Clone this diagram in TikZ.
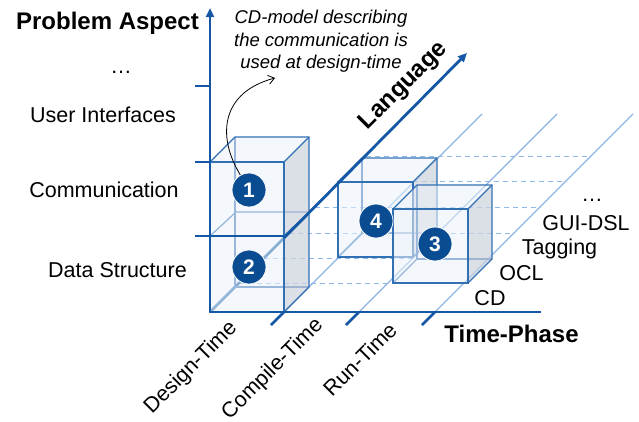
\documentclass[tikz,border=0pt]{standalone}
\usepackage{fontspec}
\setmainfont{Liberation Sans}
\usetikzlibrary{arrows.meta}
\definecolor{axisblue}{RGB}{20,88,165}
\definecolor{edgeblue}{RGB}{50,112,180}
\definecolor{gridblue}{RGB}{140,180,228}
\definecolor{dashblue}{RGB}{140,185,235}
\definecolor{facefill}{RGB}{236,243,250}
\definecolor{sidefill}{RGB}{205,210,220}
\definecolor{circfill}{RGB}{10,76,145}
\newcommand{\cubebox}[5]{%
  \draw[edge] (#1+#5,#2-#5) -- (#1+#5,#4-#5) -- (#3+#5,#4-#5);
  \draw[edge] (#1,#4) -- (#1+#5,#4-#5);
  \path[sideface] (#3,#2) -- (#3+#5,#2-#5) -- (#3+#5,#4-#5) -- (#3,#4) -- cycle;
  \path[frontface] (#1,#2) -- (#1+#5,#2-#5) -- (#3+#5,#2-#5) -- (#3,#2) -- cycle;
  \path[frontface] (#1,#2) rectangle (#3,#4);
  \draw[edge] (#1,#2) rectangle (#3,#4);
  \draw[edge] (#1,#2) -- (#1+#5,#2-#5) -- (#3+#5,#2-#5) -- (#3+#5,#4-#5) -- (#3,#4);
  \draw[edge] (#3,#2) -- (#3+#5,#2-#5);
}
\begin{document}
\begin{tikzpicture}[x=1pt,y=-1pt,
  axis/.style={draw=axisblue, line width=2.8pt},
  gridline/.style={draw=gridblue, line width=1.1pt},
  dashline/.style={draw=dashblue, line width=1pt, dash pattern=on 5pt off 4pt},
  edge/.style={draw=edgeblue, line width=1.3pt},
  frontface/.style={fill=facefill, fill opacity=0.55},
  sideface/.style={fill=sidefill, fill opacity=0.7},
  num/.style={circle, fill=circfill, draw=white, line width=0.8pt, minimum size=34pt, inner sep=0pt, text=white, font=\fontsize{21}{21}\selectfont\bfseries},
  lbl/.style={font=\fontsize{21.5}{24}\selectfont, anchor=base, inner sep=0pt},
  head/.style={font=\fontsize{24}{26}\selectfont\bfseries, inner sep=0pt},
  note/.style={font=\fontsize{18.5}{22}\selectfont\itshape, anchor=base, inner sep=0pt},
  phase/.style={font=\fontsize{21.5}{24}\selectfont, rotate=45, anchor=east, inner sep=0pt},
  tarrow/.style={-{Triangle[length=9pt,width=8pt]}},
]
\useasboundingbox (0,0) rectangle (639,421);
\fill[white] (0,0) rectangle (639,421);

% dashed language levels
\foreach \yy in {283,258,233,207,181,156}
  \draw[dashline] ({522-\yy},\yy) -- ({747-\yy},\yy);
% grid diagonals
\draw[gridline] (284,312) -- (482,114);
\draw[gridline] (359,312) -- (557,114);
\draw[gridline] (435,312) -- (633,114);
% language axis (behind boxes)
\draw[axis] (210,312) -- (284,238);

% box 1/2 with middle plane
\draw[edge] (210,236) -- (236,212) -- (309,212);
\cubebox{210}{162}{284}{312}{25}
\draw[edge] (284,236) -- (309,212);
% box 4 and box 3
\cubebox{338}{182}{413}{257}{24}
\cubebox{393}{209}{468}{283}{24}

% axes
\coordinate (o) at (210,312);
\coordinate (vtip) at (210,8);
\coordinate (ltip) at (467,53);
\coordinate (hend) at (541,312);
\draw[axis,tarrow] (o) -- (vtip);
\draw[axis] (o) -- (hend);
\draw[axis,tarrow] (284,238) -- (ltip);
\draw[axis] (195,86) -- (210,86);
\draw[axis] (195,162) -- (210,162);
\draw[axis] (195,236) -- (284,236);
\draw[axis] (271,325) -- (284,312);
\draw[axis] (346,325) -- (359,312);
\draw[axis] (422,325) -- (435,312);

% circles
\node[num] (c1) at (249,190) {1};
\node[num] (c2) at (249,267) {2};
\node[num] (c4) at (376,221) {4};
\node[num] (c3) at (435,244) {3};

% annotation
\node[note] (n1) at (321,23.5) {CD-model describing};
\node[note] (n2) at (321,46) {the communication is};
\node[note] (n3) at (321,68.5) {used at design-time};
\coordinate (atip) at (275,78);
\draw[line width=0.8pt, -{Straight Barb[length=6pt,width=9pt]}] (c1.120) .. controls (216,135) and (222,92) .. (atip);

% axis titles
\node[head, anchor=base] (pa) at (107.5,29.5) {Problem Aspect};
\node[head, anchor=base] (tp) at (511.5,342) {Time-Phase};
\node[head, rotate=45] (lang) at (404,86) {Language};

% problem aspect labels
\node[lbl] (dots1) at (121,73) {…};
\node[lbl] (ui) at (103,122) {User Interfaces};
\node[lbl] (comm) at (104,197) {Communication};
\node[lbl] (ds) at (117.5,277) {Data Structure};

% language labels
\node[lbl] (cd) at (490,305) {CD};
\node[lbl] (ocl) at (521.5,280) {OCL};
\node[lbl] (tag) at (559.5,254) {Tagging};
\node[lbl] (gui) at (586,230) {GUI-DSL};
\node[lbl] (dots2) at (592,201) {…};

% time-phase labels
\node[phase] (dt) at (234,325) {Design-Time};
\node[phase] (ct) at (320,322) {Compile-Time};
\node[phase] (rt) at (393,326) {Run-Time};
\end{tikzpicture}
\end{document}
